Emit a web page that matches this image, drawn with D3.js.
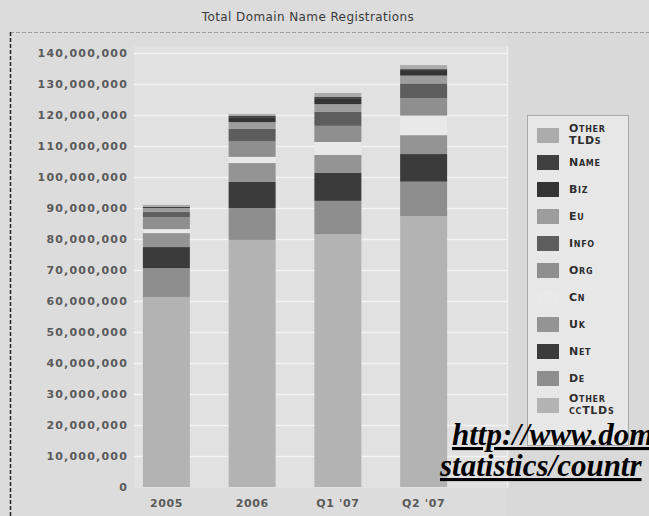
<!DOCTYPE html>
<html>
<head>
<meta charset="utf-8">
<script src="https://cdn.jsdelivr.net/npm/d3@7"></script>
<style>
  html, body { margin: 0; padding: 0; background: #dcdcdc; }
  svg { display: block; }
</style>
</head>
<body>
<script>
// ---------- data (millions of registrations) ----------
const categories = ["2005", "2006", "Q1 '07", "Q2 '07"];
const seriesNames = ["Other ccTLDs", "De", "Net", "Uk", "Cn", "Org", "Info", "Eu", "Biz", "Name", "Other TLDs"];
const otherCcTLDs = [61.3, 79.7, 81.6, 87.4];
const de          = [9.3, 10.3, 10.7, 11.1];
const net         = [6.8, 8.4, 9.0, 8.9];
const uk          = [4.5, 6.1, 5.8, 6.1];
const cn          = [1.3, 2.0, 4.2, 6.3];
const org         = [3.9, 5.1, 5.2, 5.6];
const info        = [1.6, 3.9, 4.5, 4.8];
const eu          = [1.3, 2.2, 2.5, 2.5];
const biz         = [0.3, 1.6, 1.7, 1.5];
const name        = [0.1, 0.5, 0.6, 0.6];
const otherTLDs   = [0.6, 0.5, 1.3, 1.3];
const yTicks = [0, 10, 20, 30, 40, 50, 60, 70, 80, 90, 100, 110, 120, 130, 140];
const legendOrder = ["Other TLDs", "Name", "Biz", "Eu", "Info", "Org", "Cn", "Uk", "Net", "De", "Other ccTLDs"];

const seriesValues = {
  "Other ccTLDs": otherCcTLDs, "De": de, "Net": net, "Uk": uk, "Cn": cn, "Org": org,
  "Info": info, "Eu": eu, "Biz": biz, "Name": name, "Other TLDs": otherTLDs
};
const colors = {
  "Other ccTLDs": "#b3b3b3", "De": "#8e8e8e", "Net": "#3b3b3b", "Uk": "#949494",
  "Cn": "#e9e9e9", "Org": "#8f8f8f", "Info": "#5d5d5d", "Eu": "#9d9d9d",
  "Biz": "#343434", "Name": "#3f3f3f", "Other TLDs": "#ababab"
};

const W = 649, H = 516;
const svg = d3.select("body").append("svg").attr("width", W).attr("height", H);

// background
svg.append("rect").attr("width", W).attr("height", H).attr("fill", "#dcdcdc");

// title
svg.append("text").attr("x", 308).attr("y", 21).attr("text-anchor", "middle")
  .attr("font-family", "DejaVu Sans, sans-serif").attr("font-size", 12)
  .attr("fill", "#3a3a3a").attr("letter-spacing", 0.4)
  .text("Total Domain Name Registrations");

// dashed frame
svg.append("line").attr("x1", 10).attr("x2", W).attr("y1", 32.5).attr("y2", 32.5)
  .attr("stroke", "#9a9a9a").attr("stroke-width", 1).attr("stroke-dasharray", "4,2");
svg.append("line").attr("x1", 10.5).attr("x2", 10.5).attr("y1", 32).attr("y2", H)
  .attr("stroke", "#222").attr("stroke-width", 1.5).attr("stroke-dasharray", "4,2");

// scales
const y = d3.scaleLinear().domain([0, 140]).range([487, 53]);
const x = d3.scaleBand().domain(categories).range([123.5, 466.5])
  .paddingInner(0.452).paddingOuter(0.226);

// plot panel
const panelL = 134, panelR = 507;
svg.append("rect").attr("x", panelL).attr("y", 46).attr("width", panelR - panelL).attr("height", 488 - 46)
  .attr("fill", "#e1e1e1");
svg.append("rect").attr("x", panelR).attr("y", 33).attr("width", W - panelR).attr("height", H - 33)
  .attr("fill", "#d9d9d9");
svg.append("line").attr("x1", panelR + 0.5).attr("x2", panelR + 0.5).attr("y1", 46).attr("y2", 488)
  .attr("stroke", "#efefef").attr("stroke-width", 1.5);

// gridlines
svg.append("g").selectAll("line").data(yTicks.filter(d => d > 0)).join("line")
  .attr("x1", panelL).attr("x2", panelR)
  .attr("y1", d => Math.round(y(d)) + 0.5).attr("y2", d => Math.round(y(d)) + 0.5)
  .attr("stroke", "#f4f4f4").attr("stroke-width", 1.5);

// y axis
const yAxis = svg.append("g").attr("transform", "translate(128,0)")
  .call(d3.axisLeft(y).tickValues(yTicks).tickSize(0).tickPadding(0)
    .tickFormat(d => d3.format(",")(d * 1000000)));
yAxis.select(".domain").remove();
yAxis.selectAll("text")
  .attr("font-family", "DejaVu Sans, sans-serif").attr("font-size", 11).attr("font-weight", "bold")
  .attr("fill", "#5a5a5a").attr("letter-spacing", 1.2).attr("dy", "0.35em");

// stacked bars
const table = categories.map((c, i) => {
  const row = { category: c };
  seriesNames.forEach(s => row[s] = seriesValues[s][i]);
  return row;
});
const stack = d3.stack().keys(seriesNames)(table);
svg.append("g").selectAll("g").data(stack).join("g")
  .attr("fill", d => colors[d.key])
  .selectAll("rect").data(d => d).join("rect")
  .attr("x", d => x(d.data.category))
  .attr("width", x.bandwidth())
  .attr("y", d => y(d[1]))
  .attr("height", d => y(d[0]) - y(d[1]));

// x axis labels
const xAxis = svg.append("g").attr("transform", "translate(0,499)")
  .call(d3.axisBottom(x).tickSize(0).tickPadding(0));
xAxis.select(".domain").remove();
xAxis.selectAll("text")
  .attr("font-family", "DejaVu Sans, sans-serif").attr("font-size", 11).attr("font-weight", "bold")
  .attr("fill", "#5a5a5a").attr("letter-spacing", 0.6).attr("dy", "0.71em");

// legend
const lg = svg.append("g");
lg.append("rect").attr("x", 527.5).attr("y", 115.5).attr("width", 101).attr("height", 330)
  .attr("fill", "#e7e7e7").attr("stroke", "#a8a8a8");
const legendY = d3.scalePoint().domain(legendOrder).range([135, 405]);
const items = lg.selectAll("g.item").data(legendOrder).join("g").attr("class", "item")
  .attr("transform", d => `translate(537,${legendY(d)})`);
items.append("rect").attr("x", 0).attr("y", -7).attr("width", 22).attr("height", 15)
  .attr("fill", d => colors[d]);
items.each(function(d) {
  const t = d3.select(this).append("text").attr("x", 32)
    .attr("font-family", "DejaVu Sans, sans-serif").attr("font-size", 11).attr("font-weight", "bold")
    .attr("font-variant", "small-caps").attr("fill", "#2e2e2e").attr("letter-spacing", 0.7);
  const parts = d.startsWith("Other ") ? ["Other", d.slice(6)] : [d];
  if (parts.length === 1) {
    t.append("tspan").attr("x", 32).attr("dy", "0.35em").text(parts[0]);
  } else {
    t.append("tspan").attr("x", 32).attr("dy", "-0.3em").text(parts[0]);
    t.append("tspan").attr("x", 32).attr("dy", "1.15em").text(parts[1]);
  }
});

// overlay link text (cut off at the right edge, as in the source image)
const link = svg.append("g").attr("font-family", "Liberation Serif, Times New Roman, serif")
  .attr("font-size", 31).attr("font-weight", "bold").attr("font-style", "italic")
  .attr("fill", "#000").attr("text-decoration", "underline");
link.append("text").attr("x", 452).attr("y", 445).text("http://www.dom");
link.append("text").attr("x", 440).attr("y", 476).text("statistics/countr");
</script>
</body>
</html>
